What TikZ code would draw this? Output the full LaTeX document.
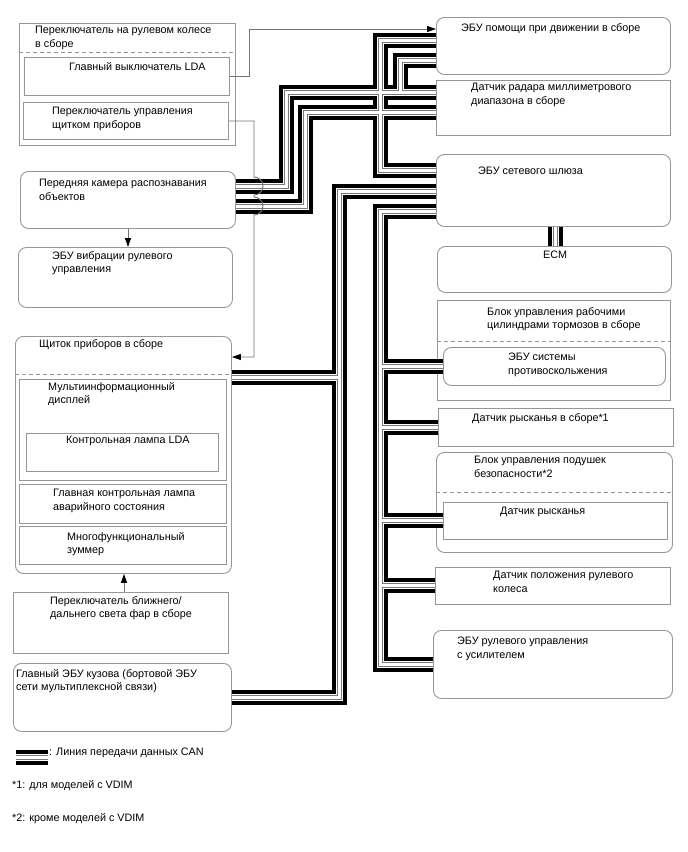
\documentclass[tikz,border=0pt]{standalone}
\usepackage{fontspec}
\setmainfont{Liberation Sans}
\usepackage{tikz}
\usetikzlibrary{arrows.meta}
\definecolor{boxclr}{RGB}{150,150,150}
\definecolor{sigclr}{RGB}{115,115,115}
\definecolor{canclr}{RGB}{120,120,120}
\tikzset{
    blk/.style={rectangle,draw=boxclr,line width=0.9pt,anchor=north west,inner sep=0pt},
    rblk/.style={blk,rounded corners=8pt},
    txt/.style={anchor=north west,align=left,inner sep=0pt,font=\fontsize{10.8}{13.5}\selectfont},
    sep/.style={draw=boxclr,line width=0.9pt,dash pattern=on 4pt off 3pt},
    sig/.style={draw=sigclr,line width=0.9pt},
    arr/.style={sig,-{Triangle[length=9pt,width=6pt,color=black]}},
}

\begin{document}
\begin{tikzpicture}[x=1pt,y=-1pt]
\useasboundingbox (0,0) rectangle (688,852);

% left column
\node[blk,minimum width=216pt,minimum height=122pt] (sw)  at (19,23)  {};
\node[blk,minimum width=205pt,minimum height=38pt]  (lda) at (24,57)  {};
\node[blk,minimum width=205pt,minimum height=37pt]  (msw) at (23,102) {};
\node[rblk,minimum width=215pt,minimum height=57pt] (cam) at (20,171) {};
\node[rblk,minimum width=214pt,minimum height=60pt] (vib) at (18,247) {};
\node[rblk,minimum width=216pt,minimum height=237pt] (met) at (15,336) {};
\node[blk,minimum width=207pt,minimum height=101pt] (mid) at (19,379) {};
\node[blk,minimum width=192pt,minimum height=38pt]  (lmp) at (26,433) {};
\node[blk,minimum width=207pt,minimum height=39pt]  (mwl) at (19,484) {};
\node[blk,minimum width=207pt,minimum height=38pt]  (buz) at (19,526) {};
\node[blk,minimum width=215pt,minimum height=61pt]  (hsw) at (13,592) {};
\node[rblk,minimum width=218pt,minimum height=68pt] (bdy) at (13,663) {};

% right column
\node[rblk,minimum width=234pt,minimum height=57pt] (dsa) at (436,17)  {};
\node[blk,minimum width=234pt,minimum height=55pt]  (rad) at (436,80)  {};
\node[rblk,minimum width=234pt,minimum height=72pt] (gw)  at (436,154) {};
\node[rblk,minimum width=234pt,minimum height=46pt] (ecm) at (437,246) {};
\node[blk,minimum width=233pt,minimum height=100pt] (brk) at (437,300) {};
\node[rblk,minimum width=222pt,minimum height=38pt] (abs) at (443,347) {};
\node[blk,minimum width=235pt,minimum height=38pt]  (yaw) at (438,408) {};
\node[rblk,minimum width=236pt,minimum height=100pt] (air) at (436,452) {};
\node[blk,minimum width=224pt,minimum height=37pt]  (yws) at (443,502) {};
\node[blk,minimum width=235pt,minimum height=37pt]  (ssr) at (435,567) {};
\node[rblk,minimum width=239pt,minimum height=68pt] (eps) at (433,630) {};

\draw[sep] (sw.west |- 0,52)   -- (sw.east |- 0,52);
\draw[sep] (met.west |- 0,374) -- (met.east |- 0,374);
\draw[sep] (brk.west |- 0,341) -- (brk.east |- 0,341);
\draw[sep] (air.west |- 0,492) -- (air.east |- 0,492);

\coordinate (lg1) at (16,757);
\coordinate (lg2) at (48,757);

% CAN lines, drawn in layers so that junctions merge
\foreach \w/\c in {15/black,7/white,5/canclr,3/white}{
  \begin{scope}[line width=\w pt,color=\c]
  \draw (cam.east |- 0,186) -| (286,92) -- (rad.west |- 0,92);
  \draw (cam.east |- 0,206) -| (305,112) -- (rad.west |- 0,112);
  \draw (gw.west |- 0,170) -| (380,40) -- (dsa.west |- 0,40);
  \draw (dsa.west |- 0,60) -| (400,92);
  \draw (gw.south -| 555,0) -- (ecm.north -| 555,0);
  \draw (gw.west |- 0,191) -| ([xshift=108pt]bdy.east) -- (bdy.east);
  \draw (met.east |- 0,377) -- (339,377);
  \draw (gw.west |- 0,211) -| ([xshift=-53pt]eps.west) -- (eps.west);
  \draw (abs.west) -- (abs.west -| 380,0);
  \draw (yaw.west) -- (yaw.west -| 380,0);
  \draw (yws.west) -- (yws.west -| 380,0);
  \draw (ssr.west) -- (ssr.west -| 380,0);
  \draw (lg1) -- (lg2);
  \end{scope}
}

% signal lines
\draw[arr] (lda.east) -| (249,29) -- (dsa.west |- 0,29);
\draw[arr] (msw.east) -| (254,177)
    arc[start angle=-90,end angle=90,radius=9] -- (254,197)
    arc[start angle=-90,end angle=90,radius=9] -- (254,357) -- (met.east |- 0,357);
\draw[arr] (cam.south -| 128,0) -- (vib.north -| 128,0);
\draw[arr] (hsw.north -| 124,0) -- (met.south -| 124,0);

% labels
\node[txt] (t-sw)  at (35,26)  {Переключатель на рулевом колесе\\в сборе};
\node[txt] (t-lda) at (69,62)  {Главный выключатель LDA};
\node[txt] (t-msw) at (52,107) {Переключатель управления\\щитком приборов};
\node[txt] (t-cam) at (39,179) {Передняя камера распознавания\\объектов};
\node[txt] (t-vib) at (52,251) {ЭБУ вибрации рулевого\\управления};
\node[txt] (t-met) at (39,339) {Щиток приборов в сборе};
\node[txt] (t-mid) at (48,382) {Мультиинформационный\\дисплей};
\node[txt] (t-lmp) at (66,436) {Контрольная лампа LDA};
\node[txt] (t-mwl) at (53,489) {Главная контрольная лампа\\аварийного состояния};
\node[txt] (t-buz) at (67,532) {Многофункциональный\\зуммер};
\node[txt] (t-hsw) at (50,596) {Переключатель ближнего/\\дальнего света фар в сборе};
\node[txt] (t-bdy) at (16,669) {Главный ЭБУ кузова (бортовой ЭБУ\\сети мультиплексной связи)};
\node[txt] (t-dsa) at (461,23) {ЭБУ помощи при движении в сборе};
\node[txt] (t-rad) at (471,83) {Датчик радара миллиметрового\\диапазона в сборе};
\node[txt] (t-gw)  at (478,167) {ЭБУ сетевого шлюза};
\node[txt] (t-ecm) at (543,251) {ECM};
\node[txt] (t-brk) at (487,307) {Блок управления рабочими\\цилиндрами тормозов в сборе};
\node[txt] (t-abs) at (508,353) {ЭБУ системы\\противоскольжения};
\node[txt] (t-yaw) at (472,413) {Датчик рысканья в сборе*1};
\node[txt] (t-air) at (474,456) {Блок управления подушек\\безопасности*2};
\node[txt] (t-yws) at (500,507) {Датчик рысканья};
\node[txt] (t-ssr) at (493,571) {Датчик положения рулевого\\колеса};
\node[txt] (t-eps) at (457,637) {ЭБУ рулевого управления\\с усилителем};
\node[txt] (t-lg)  at (49,748) {: Линия передачи данных CAN};
\node[txt] (t-n1)  at (12,780) {*1: для моделей с VDIM};
\node[txt] (t-n2)  at (12,813) {*2: кроме моделей с VDIM};
\end{tikzpicture}
\end{document}
